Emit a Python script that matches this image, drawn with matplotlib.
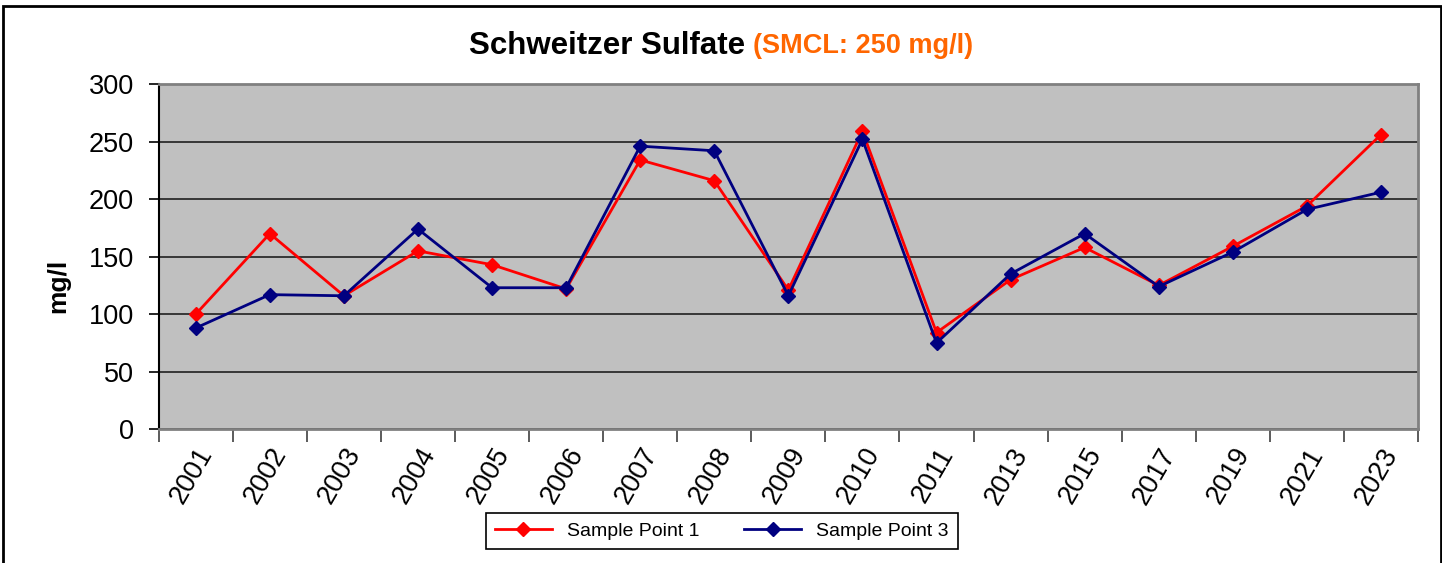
import matplotlib
matplotlib.use('Agg')
import matplotlib.pyplot as plt
from matplotlib.patches import Rectangle

plt.rcParams['font.family'] = ['Liberation Sans', 'DejaVu Sans']

# Data
years = ['2001', '2002', '2003', '2004', '2005', '2006', '2007', '2008', '2009',
         '2010', '2011', '2013', '2015', '2017', '2019', '2021', '2023']
sp1 = [100, 170, 116, 155, 143, 122, 234, 216, 121, 259, 84, 130, 158, 125, 159, 194, 256]
sp3 = [88, 117, 116, 174, 123, 123, 246, 242, 116, 252, 75, 135, 170, 124, 154, 191, 206]
yticks = [0, 50, 100, 150, 200, 250, 300]

W, H = 1442, 563
fig = plt.figure(figsize=(W / 100, H / 100), dpi=100)
ax = fig.add_axes([158.7 / W, 1 - 429.3 / H, (1418 - 158.7) / W, (429.3 - 84) / H])
ax.set_facecolor('#C0C0C0')

x = list(range(len(years)))
ax.plot(x, sp1, color='#FF0000', lw=2, marker='D', ms=7.5, label='Sample Point 1', zorder=3)
ax.plot(x, sp3, color='#000080', lw=2, marker='D', ms=7.5, label='Sample Point 3', zorder=4)

ax.set_xlim(-0.5, len(years) - 0.5)
ax.set_ylim(0, 300)
ax.set_yticks(yticks)
ax.yaxis.grid(True, color='#202020', lw=1.2)
ax.set_axisbelow(True)

# category boundaries get the tick marks, centers get the labels
ax.set_xticks([i - 0.5 for i in range(len(years) + 1)])
ax.set_xticklabels([])
ax.set_xticks(x, minor=True)
ax.set_xticklabels(years, minor=True, rotation=60, ha='right', rotation_mode='anchor', fontsize=19.5)
ax.tick_params(axis='x', which='minor', length=0, pad=10)
ax.tick_params(axis='x', which='major', length=9, color='#404040', width=1.2)
ax.tick_params(axis='y', length=7, width=1.2, labelsize=19.5, pad=11)

for s in ['top', 'right', 'bottom']:
    ax.spines[s].set_color('#808080')
    ax.spines[s].set_linewidth(2)
ax.spines['left'].set_color('black')
ax.spines['left'].set_linewidth(1.5)

fig.text(58 / W, 1 - 286 / H, 'mg/l', rotation=90, ha='center', va='center',
         fontsize=19, fontweight='bold')

t1 = fig.text(0.5, 1 - 46 / H, 'Schweitzer Sulfate ', ha='right', va='center',
              fontsize=22.5, fontweight='bold')
fig.canvas.draw()
# place title so the two parts are centred together
r = fig.canvas.get_renderer()
t2 = fig.text(0.5, 1 - 46 / H, '(SMCL: 250 mg/l)', ha='left', va='center',
              fontsize=19.5, fontweight='bold', color='#FF6600')
w1 = t1.get_window_extent(r).width
w2 = t2.get_window_extent(r).width
shift = (w1 - w2) / 2 / W
t1.set_x(0.5 + shift)
t2.set_x(0.5 + shift)

leg = fig.legend(loc='center', bbox_to_anchor=(722 / W, 1 - 531 / H), ncol=2,
                 fontsize=14, fancybox=False, framealpha=1, edgecolor='black',
                 handlelength=2.9, columnspacing=2.3, borderpad=0.45)
leg.get_frame().set_linewidth(1.2)

fig.patches.append(Rectangle((3.5 / W, -0.05), (1441 - 3.5) / W, 1.05 - 6 / H,
                             transform=fig.transFigure, fill=False, ec='black', lw=2))

fig.savefig('out.png', dpi=100)
